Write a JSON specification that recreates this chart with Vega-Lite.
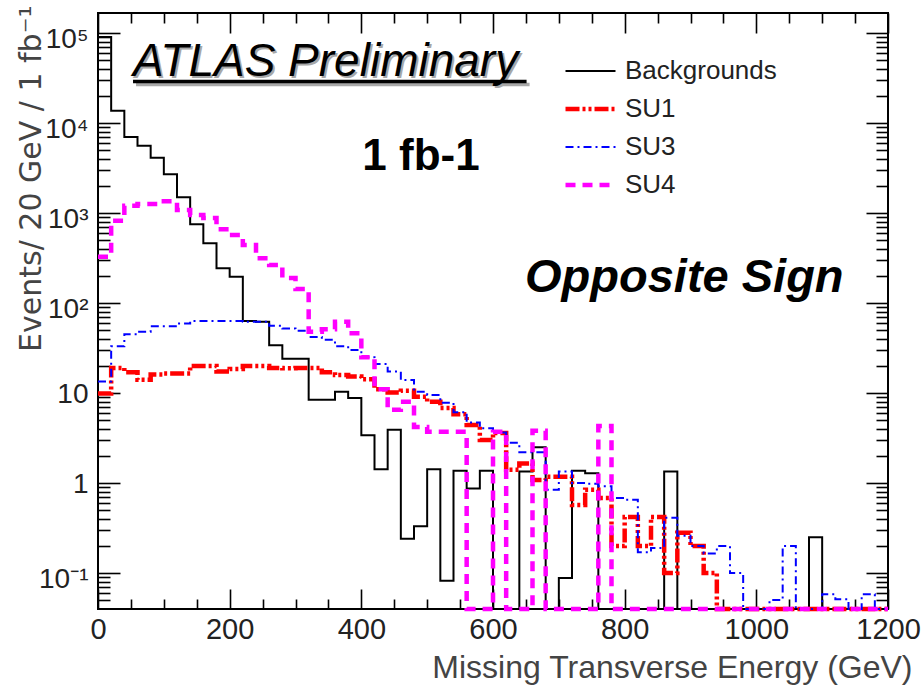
{
  "$schema": "https://vega.github.io/schema/vega-lite/v6.json",
  "width": 790,
  "height": 596,
  "autosize": {"type": "none"},
  "padding": {"left": 98, "top": 13, "right": 35, "bottom": 79},
  "background": "white",
  "config": {
    "view": {"stroke": "#000000", "strokeWidth": 2},
    "font": "Liberation Sans",
    "axis": {
      "domain": false,
      "grid": false,
      "tickColor": "#000000",
      "tickWidth": 1.6,
      "labelFont": "Liberation Sans",
      "labelFontSize": 28,
      "labelColor": "#222222",
      "labelOverlap": false,
      "labelFlush": false,
      "labelBound": false,
      "titleFont": "Liberation Sans",
      "titleFontWeight": "normal",
      "titleColor": "#444444"
    }
  },
  "resolve": {"axis": {"x": "independent", "y": "independent"}},
  "layer": [
    {
      "data": {
        "values": [
          {"series": "Backgrounds", "met": 0, "events": 90000},
          {"series": "Backgrounds", "met": 20, "events": 13700},
          {"series": "Backgrounds", "met": 40, "events": 7000},
          {"series": "Backgrounds", "met": 60, "events": 5600},
          {"series": "Backgrounds", "met": 80, "events": 4100},
          {"series": "Backgrounds", "met": 100, "events": 2700},
          {"series": "Backgrounds", "met": 120, "events": 1500},
          {"series": "Backgrounds", "met": 140, "events": 750},
          {"series": "Backgrounds", "met": 160, "events": 460},
          {"series": "Backgrounds", "met": 180, "events": 243},
          {"series": "Backgrounds", "met": 200, "events": 196},
          {"series": "Backgrounds", "met": 220, "events": 63},
          {"series": "Backgrounds", "met": 240, "events": 62},
          {"series": "Backgrounds", "met": 260, "events": 34},
          {"series": "Backgrounds", "met": 280, "events": 24},
          {"series": "Backgrounds", "met": 300, "events": 24},
          {"series": "Backgrounds", "met": 320, "events": 8.4},
          {"series": "Backgrounds", "met": 340, "events": 8.4},
          {"series": "Backgrounds", "met": 360, "events": 10.3},
          {"series": "Backgrounds", "met": 380, "events": 8.8},
          {"series": "Backgrounds", "met": 400, "events": 3.4},
          {"series": "Backgrounds", "met": 420, "events": 1.42},
          {"series": "Backgrounds", "met": 440, "events": 3.9},
          {"series": "Backgrounds", "met": 460, "events": 0.24},
          {"series": "Backgrounds", "met": 480, "events": 0.33},
          {"series": "Backgrounds", "met": 500, "events": 1.42},
          {"series": "Backgrounds", "met": 520, "events": 0.082},
          {"series": "Backgrounds", "met": 540, "events": 1.37},
          {"series": "Backgrounds", "met": 560, "events": 0.87},
          {"series": "Backgrounds", "met": 580, "events": 1.37},
          {"series": "Backgrounds", "met": 600, "events": 0},
          {"series": "Backgrounds", "met": 620, "events": 0},
          {"series": "Backgrounds", "met": 640, "events": 1.34},
          {"series": "Backgrounds", "met": 660, "events": 2.5},
          {"series": "Backgrounds", "met": 680, "events": 0},
          {"series": "Backgrounds", "met": 700, "events": 0.088},
          {"series": "Backgrounds", "met": 720, "events": 1.37},
          {"series": "Backgrounds", "met": 740, "events": 1.28},
          {"series": "Backgrounds", "met": 760, "events": 0},
          {"series": "Backgrounds", "met": 780, "events": 0},
          {"series": "Backgrounds", "met": 800, "events": 0},
          {"series": "Backgrounds", "met": 820, "events": 0},
          {"series": "Backgrounds", "met": 840, "events": 0},
          {"series": "Backgrounds", "met": 860, "events": 1.34},
          {"series": "Backgrounds", "met": 880, "events": 0},
          {"series": "Backgrounds", "met": 900, "events": 0},
          {"series": "Backgrounds", "met": 920, "events": 0},
          {"series": "Backgrounds", "met": 940, "events": 0},
          {"series": "Backgrounds", "met": 960, "events": 0},
          {"series": "Backgrounds", "met": 980, "events": 0},
          {"series": "Backgrounds", "met": 1000, "events": 0},
          {"series": "Backgrounds", "met": 1020, "events": 0},
          {"series": "Backgrounds", "met": 1040, "events": 0},
          {"series": "Backgrounds", "met": 1060, "events": 0},
          {"series": "Backgrounds", "met": 1080, "events": 0.25},
          {"series": "Backgrounds", "met": 1100, "events": 0},
          {"series": "Backgrounds", "met": 1120, "events": 0},
          {"series": "Backgrounds", "met": 1140, "events": 0},
          {"series": "Backgrounds", "met": 1160, "events": 0},
          {"series": "Backgrounds", "met": 1180, "events": 0},
          {"series": "Backgrounds", "met": 1200, "events": 0},

          {"series": "SU1", "met": 0, "events": 9.9},
          {"series": "SU1", "met": 20, "events": 19},
          {"series": "SU1", "met": 40, "events": 17},
          {"series": "SU1", "met": 60, "events": 14},
          {"series": "SU1", "met": 80, "events": 16},
          {"series": "SU1", "met": 100, "events": 16.5},
          {"series": "SU1", "met": 120, "events": 16.5},
          {"series": "SU1", "met": 140, "events": 20},
          {"series": "SU1", "met": 160, "events": 20},
          {"series": "SU1", "met": 180, "events": 17.3},
          {"series": "SU1", "met": 200, "events": 18.5},
          {"series": "SU1", "met": 220, "events": 20},
          {"series": "SU1", "met": 240, "events": 20},
          {"series": "SU1", "met": 260, "events": 19},
          {"series": "SU1", "met": 280, "events": 18.8},
          {"series": "SU1", "met": 300, "events": 19},
          {"series": "SU1", "met": 320, "events": 19},
          {"series": "SU1", "met": 340, "events": 17},
          {"series": "SU1", "met": 360, "events": 15.8},
          {"series": "SU1", "met": 380, "events": 15.2},
          {"series": "SU1", "met": 400, "events": 14.2},
          {"series": "SU1", "met": 420, "events": 11},
          {"series": "SU1", "met": 440, "events": 10.1},
          {"series": "SU1", "met": 460, "events": 10.6},
          {"series": "SU1", "met": 480, "events": 9.1},
          {"series": "SU1", "met": 500, "events": 8},
          {"series": "SU1", "met": 520, "events": 6.8},
          {"series": "SU1", "met": 540, "events": 5.8},
          {"series": "SU1", "met": 560, "events": 4.4},
          {"series": "SU1", "met": 580, "events": 3},
          {"series": "SU1", "met": 600, "events": 3.6},
          {"series": "SU1", "met": 620, "events": 1.4},
          {"series": "SU1", "met": 640, "events": 1.65},
          {"series": "SU1", "met": 660, "events": 1.08},
          {"series": "SU1", "met": 680, "events": 1.17},
          {"series": "SU1", "met": 700, "events": 1.17},
          {"series": "SU1", "met": 720, "events": 0.57},
          {"series": "SU1", "met": 740, "events": 0.84},
          {"series": "SU1", "met": 760, "events": 0.68},
          {"series": "SU1", "met": 780, "events": 0.2},
          {"series": "SU1", "met": 800, "events": 0.42},
          {"series": "SU1", "met": 820, "events": 0.2},
          {"series": "SU1", "met": 840, "events": 0.42},
          {"series": "SU1", "met": 860, "events": 0.1},
          {"series": "SU1", "met": 880, "events": 0.28},
          {"series": "SU1", "met": 900, "events": 0.2},
          {"series": "SU1", "met": 920, "events": 0.1},
          {"series": "SU1", "met": 940, "events": 0},
          {"series": "SU1", "met": 960, "events": 0},
          {"series": "SU1", "met": 980, "events": 0},
          {"series": "SU1", "met": 1000, "events": 0},
          {"series": "SU1", "met": 1020, "events": 0},
          {"series": "SU1", "met": 1040, "events": 0},
          {"series": "SU1", "met": 1060, "events": 0},
          {"series": "SU1", "met": 1080, "events": 0},
          {"series": "SU1", "met": 1100, "events": 0},
          {"series": "SU1", "met": 1120, "events": 0},
          {"series": "SU1", "met": 1140, "events": 0},
          {"series": "SU1", "met": 1160, "events": 0},
          {"series": "SU1", "met": 1180, "events": 0},
          {"series": "SU1", "met": 1200, "events": 0},

          {"series": "SU3", "met": 0, "events": 13.4},
          {"series": "SU3", "met": 20, "events": 33},
          {"series": "SU3", "met": 40, "events": 45},
          {"series": "SU3", "met": 60, "events": 48},
          {"series": "SU3", "met": 80, "events": 55},
          {"series": "SU3", "met": 100, "events": 55},
          {"series": "SU3", "met": 120, "events": 59},
          {"series": "SU3", "met": 140, "events": 63},
          {"series": "SU3", "met": 160, "events": 63},
          {"series": "SU3", "met": 180, "events": 63},
          {"series": "SU3", "met": 200, "events": 63},
          {"series": "SU3", "met": 220, "events": 62},
          {"series": "SU3", "met": 240, "events": 62},
          {"series": "SU3", "met": 260, "events": 56},
          {"series": "SU3", "met": 280, "events": 52},
          {"series": "SU3", "met": 300, "events": 49},
          {"series": "SU3", "met": 320, "events": 42},
          {"series": "SU3", "met": 340, "events": 39},
          {"series": "SU3", "met": 360, "events": 33},
          {"series": "SU3", "met": 380, "events": 30},
          {"series": "SU3", "met": 400, "events": 25},
          {"series": "SU3", "met": 420, "events": 21},
          {"series": "SU3", "met": 440, "events": 17.3},
          {"series": "SU3", "met": 460, "events": 13.9},
          {"series": "SU3", "met": 480, "events": 10.3},
          {"series": "SU3", "met": 500, "events": 9.5},
          {"series": "SU3", "met": 520, "events": 7.8},
          {"series": "SU3", "met": 540, "events": 6.1},
          {"series": "SU3", "met": 560, "events": 4.7},
          {"series": "SU3", "met": 580, "events": 4.05},
          {"series": "SU3", "met": 600, "events": 3.65},
          {"series": "SU3", "met": 620, "events": 2.8},
          {"series": "SU3", "met": 640, "events": 2.2},
          {"series": "SU3", "met": 660, "events": 2.2},
          {"series": "SU3", "met": 680, "events": 0.84},
          {"series": "SU3", "met": 700, "events": 1.34},
          {"series": "SU3", "met": 720, "events": 1},
          {"series": "SU3", "met": 740, "events": 0.98},
          {"series": "SU3", "met": 760, "events": 0.92},
          {"series": "SU3", "met": 780, "events": 0.68},
          {"series": "SU3", "met": 800, "events": 0.65},
          {"series": "SU3", "met": 820, "events": 0.17},
          {"series": "SU3", "met": 840, "events": 0.19},
          {"series": "SU3", "met": 860, "events": 0.41},
          {"series": "SU3", "met": 880, "events": 0.26},
          {"series": "SU3", "met": 900, "events": 0.2},
          {"series": "SU3", "met": 920, "events": 0.165},
          {"series": "SU3", "met": 940, "events": 0.2},
          {"series": "SU3", "met": 960, "events": 0.1},
          {"series": "SU3", "met": 980, "events": 0},
          {"series": "SU3", "met": 1000, "events": 0},
          {"series": "SU3", "met": 1020, "events": 0.05},
          {"series": "SU3", "met": 1040, "events": 0.2},
          {"series": "SU3", "met": 1060, "events": 0},
          {"series": "SU3", "met": 1080, "events": 0},
          {"series": "SU3", "met": 1100, "events": 0.058},
          {"series": "SU3", "met": 1120, "events": 0.051},
          {"series": "SU3", "met": 1140, "events": 0},
          {"series": "SU3", "met": 1160, "events": 0.058},
          {"series": "SU3", "met": 1180, "events": 0},
          {"series": "SU3", "met": 1200, "events": 0},

          {"series": "SU4", "met": 0, "events": 327},
          {"series": "SU4", "met": 20, "events": 820},
          {"series": "SU4", "met": 40, "events": 1200},
          {"series": "SU4", "met": 60, "events": 1260},
          {"series": "SU4", "met": 80, "events": 1260},
          {"series": "SU4", "met": 100, "events": 1350},
          {"series": "SU4", "met": 120, "events": 1080},
          {"series": "SU4", "met": 140, "events": 950},
          {"series": "SU4", "met": 160, "events": 880},
          {"series": "SU4", "met": 180, "events": 660},
          {"series": "SU4", "met": 200, "events": 570},
          {"series": "SU4", "met": 220, "events": 440},
          {"series": "SU4", "met": 240, "events": 314},
          {"series": "SU4", "met": 260, "events": 265},
          {"series": "SU4", "met": 280, "events": 190},
          {"series": "SU4", "met": 300, "events": 143},
          {"series": "SU4", "met": 320, "events": 48},
          {"series": "SU4", "met": 340, "events": 51},
          {"series": "SU4", "met": 360, "events": 62},
          {"series": "SU4", "met": 380, "events": 46},
          {"series": "SU4", "met": 400, "events": 25},
          {"series": "SU4", "met": 420, "events": 11},
          {"series": "SU4", "met": 440, "events": 6.5},
          {"series": "SU4", "met": 460, "events": 8},
          {"series": "SU4", "met": 480, "events": 4.2},
          {"series": "SU4", "met": 500, "events": 3.7},
          {"series": "SU4", "met": 520, "events": 3.7},
          {"series": "SU4", "met": 540, "events": 3.7},
          {"series": "SU4", "met": 560, "events": 0},
          {"series": "SU4", "met": 580, "events": 0},
          {"series": "SU4", "met": 600, "events": 3.7},
          {"series": "SU4", "met": 620, "events": 0},
          {"series": "SU4", "met": 640, "events": 0},
          {"series": "SU4", "met": 660, "events": 3.8},
          {"series": "SU4", "met": 680, "events": 0},
          {"series": "SU4", "met": 700, "events": 0},
          {"series": "SU4", "met": 720, "events": 0},
          {"series": "SU4", "met": 740, "events": 0},
          {"series": "SU4", "met": 760, "events": 4.3},
          {"series": "SU4", "met": 780, "events": 0},
          {"series": "SU4", "met": 800, "events": 0},
          {"series": "SU4", "met": 820, "events": 0},
          {"series": "SU4", "met": 840, "events": 0},
          {"series": "SU4", "met": 860, "events": 0},
          {"series": "SU4", "met": 880, "events": 0},
          {"series": "SU4", "met": 900, "events": 0},
          {"series": "SU4", "met": 920, "events": 0},
          {"series": "SU4", "met": 940, "events": 0},
          {"series": "SU4", "met": 960, "events": 0},
          {"series": "SU4", "met": 980, "events": 0},
          {"series": "SU4", "met": 1000, "events": 0},
          {"series": "SU4", "met": 1020, "events": 0},
          {"series": "SU4", "met": 1040, "events": 0},
          {"series": "SU4", "met": 1060, "events": 0},
          {"series": "SU4", "met": 1080, "events": 0},
          {"series": "SU4", "met": 1100, "events": 0},
          {"series": "SU4", "met": 1120, "events": 0},
          {"series": "SU4", "met": 1140, "events": 0},
          {"series": "SU4", "met": 1160, "events": 0},
          {"series": "SU4", "met": 1180, "events": 0},
          {"series": "SU4", "met": 1200, "events": 0}
        ]
      },
      "mark": {"type": "line", "interpolate": "step-after", "invalid": "show", "clip": false},
      "encoding": {
        "x": {
          "field": "met", "type": "quantitative",
          "scale": {"domain": [0, 1200], "nice": false, "zero": false},
          "axis": {
            "orient": "bottom",
            "values": [0, 50, 100, 150, 200, 250, 300, 350, 400, 450, 500, 550, 600, 650, 700, 750, 800, 850, 900, 950, 1000, 1050, 1100, 1150, 1200],
            "labelExpr": "datum.value % 200 == 0 ? format(datum.value, 'd') : ''",
            "tickSize": {"condition": {"test": "datum.value % 200 == 0", "value": -20}, "value": -10},
            "labelPadding": 26,
            "labelFontSize": 29,
            "title": "Missing Transverse Energy (GeV)",
            "titleFontSize": 32,
            "titleAnchor": "end",
            "titleAlign": "right",
            "titleBaseline": "alphabetic",
            "titleX": 814,
            "titleY": 68
          }
        },
        "y": {
          "field": "events", "type": "quantitative",
          "scale": {"type": "log", "domain": [0.0398, 166700], "nice": false, "clamp": true},
          "axis": {
            "orient": "left",
            "values": [0.05, 0.06, 0.07, 0.08, 0.09, 0.1, 0.2, 0.3, 0.4, 0.5, 0.6, 0.7, 0.8, 0.9, 1, 2, 3, 4, 5, 6, 7, 8, 9, 10, 20, 30, 40, 50, 60, 70, 80, 90, 100, 200, 300, 400, 500, 600, 700, 800, 900, 1000, 2000, 3000, 4000, 5000, 6000, 7000, 8000, 9000, 10000, 20000, 30000, 40000, 50000, 60000, 70000, 80000, 90000, 100000],
            "labelExpr": "datum.value == 100000 ? '10⁵' : datum.value == 10000 ? '10⁴' : datum.value == 1000 ? '10³' : datum.value == 100 ? '10²' : datum.value == 10 ? '10' : datum.value == 1 ? '1' : datum.value == 0.1 ? '10⁻¹' : ''",
            "tickSize": {"condition": {"test": "datum.value == 0.1 || datum.value == 1 || datum.value == 10 || datum.value == 100 || datum.value == 1000 || datum.value == 10000 || datum.value == 100000", "value": -22}, "value": -12},
            "labelPadding": 32,
            "labelOffset": {"condition": {"test": "datum.value == 1 || datum.value == 10", "value": 2}, "value": 7},
            "title": "Events/ 20 GeV / 1 fb⁻¹",
            "titleFont": "DejaVu Sans",
            "titleFontSize": 30,
            "titleAngle": 270,
            "titleAnchor": "end",
            "titleAlign": "right",
            "titleBaseline": "alphabetic",
            "titleX": -58,
            "titleY": -8
          }
        },
        "color": {
          "field": "series", "type": "nominal",
          "scale": {"domain": ["Backgrounds", "SU1", "SU3", "SU4"], "range": ["#000000", "#ff0000", "#0000ff", "#ff00ff"]},
          "legend": {
            "orient": "none",
            "legendX": 465,
            "legendY": 43,
            "title": null,
            "padding": 0,
            "symbolType": "stroke",
            "symbolSize": 2500,
            "clipHeight": 30,
            "rowPadding": 8,
            "labelOffset": 7,
            "labelLimit": 400,
            "labelFont": "Liberation Sans",
            "labelFontSize": 26,
            "labelColor": "#222222"
          }
        },
        "strokeDash": {
          "field": "series", "type": "nominal",
          "scale": {"domain": ["Backgrounds", "SU1", "SU3", "SU4"], "range": [[1, 0], [14, 3, 3, 3, 3, 3], [8, 4, 2, 4], [10, 7]]}
        },
        "strokeWidth": {
          "field": "series", "type": "nominal",
          "scale": {"type": "ordinal", "domain": ["Backgrounds", "SU1", "SU3", "SU4"], "range": [2, 4.5, 2, 4.5]}
        }
      }
    },
    {
      "data": {"values": [{"label": "ATLAS Preliminary", "met": 53.2, "events": 33300}]},
      "mark": {"type": "text", "align": "left", "baseline": "alphabetic", "font": "Liberation Sans", "fontStyle": "italic", "fontSize": 46, "color": "#a8a8a8", "dx": 2, "dy": 2},
      "encoding": {
        "x": {"field": "met", "type": "quantitative", "scale": {"domain": [0, 1200], "nice": false, "zero": false}, "axis": null},
        "y": {"field": "events", "type": "quantitative", "scale": {"type": "log", "domain": [0.0398, 166700], "nice": false, "clamp": true}, "axis": null},
        "text": {"field": "label"}
      }
    },
    {
      "data": {"values": [{"met": 57.8, "end": 655.6, "events": 26800}]},
      "mark": {"type": "rule", "color": "#a8a8a8", "strokeWidth": 3.5},
      "encoding": {
        "x": {"field": "met", "type": "quantitative", "axis": null},
        "x2": {"field": "end"},
        "y": {"field": "events", "type": "quantitative", "axis": null}
      }
    },
    {
      "data": {"values": [{"met": 53.2, "end": 651, "events": 28900}]},
      "mark": {"type": "rule", "color": "#000000", "strokeWidth": 3.5},
      "encoding": {
        "x": {"field": "met", "type": "quantitative", "axis": null},
        "x2": {"field": "end"},
        "y": {"field": "events", "type": "quantitative", "axis": null}
      }
    },
    {
      "data": {"values": [{"label": "ATLAS Preliminary", "met": 53.2, "events": 33300}]},
      "mark": {"type": "text", "align": "left", "baseline": "alphabetic", "font": "Liberation Sans", "fontStyle": "italic", "fontSize": 46, "color": "#000000"},
      "encoding": {
        "x": {"field": "met", "type": "quantitative", "axis": null},
        "y": {"field": "events", "type": "quantitative", "axis": null},
        "text": {"field": "label"}
      }
    },
    {
      "data": {"values": [{"label": "1 fb-1", "met": 490.6, "events": 3000}]},
      "mark": {"type": "text", "align": "center", "baseline": "alphabetic", "font": "Liberation Sans", "fontWeight": "bold", "fontSize": 44, "color": "#000000"},
      "encoding": {
        "x": {"field": "met", "type": "quantitative", "axis": null},
        "y": {"field": "events", "type": "quantitative", "axis": null},
        "text": {"field": "label"}
      }
    },
    {
      "data": {"values": [{"label": "Opposite Sign", "met": 648.6, "events": 132.5}]},
      "mark": {"type": "text", "align": "left", "baseline": "alphabetic", "font": "Liberation Sans", "fontWeight": "bold", "fontStyle": "italic", "fontSize": 47, "color": "#000000"},
      "encoding": {
        "x": {
          "field": "met", "type": "quantitative",
          "axis": {
            "orient": "top",
            "values": [0, 50, 100, 150, 200, 250, 300, 350, 400, 450, 500, 550, 600, 650, 700, 750, 800, 850, 900, 950, 1000, 1050, 1100, 1150, 1200],
            "labels": false,
            "title": null,
            "tickSize": {"condition": {"test": "datum.value % 200 == 0", "value": -20}, "value": -10}
          }
        },
        "y": {
          "field": "events", "type": "quantitative",
          "axis": {
            "orient": "right",
            "values": [0.05, 0.06, 0.07, 0.08, 0.09, 0.1, 0.2, 0.3, 0.4, 0.5, 0.6, 0.7, 0.8, 0.9, 1, 2, 3, 4, 5, 6, 7, 8, 9, 10, 20, 30, 40, 50, 60, 70, 80, 90, 100, 200, 300, 400, 500, 600, 700, 800, 900, 1000, 2000, 3000, 4000, 5000, 6000, 7000, 8000, 9000, 10000, 20000, 30000, 40000, 50000, 60000, 70000, 80000, 90000, 100000],
            "labels": false,
            "title": null,
            "tickSize": {"condition": {"test": "datum.value == 0.1 || datum.value == 1 || datum.value == 10 || datum.value == 100 || datum.value == 1000 || datum.value == 10000 || datum.value == 100000", "value": -22}, "value": -12}
          }
        },
        "text": {"field": "label"}
      }
    }
  ]
}
